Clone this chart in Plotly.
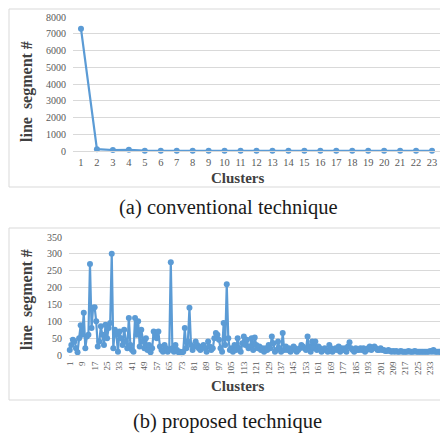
import plotly.graph_objects as go

# ---------------- data ----------------
top_clusters = list(range(1, 24))
top_values = [7300, 110, 60, 70, 20, 18, 15, 12, 12, 10, 10, 10, 10, 8, 8, 8, 8, 8, 8, 8, 8, 8, 8]

bottom_values = [
    15, 30, 45, 40, 20, 8, 50, 88,
    60, 125, 20, 55, 60, 270, 80, 140,
    142, 100, 25, 40, 85, 60, 30, 90,
    50, 80, 95, 300, 20, 75, 60, 10,
    70, 50, 30, 75, 40, 20, 110, 30,
    15, 10, 110, 60, 100, 25, 75, 40,
    20, 50, 15, 30, 8, 20, 70, 60,
    50, 70, 25, 15, 10, 30, 20, 10,
    15, 275, 20, 10, 30, 15, 8, 10,
    5, 10, 80, 20, 40, 140, 30, 15,
    25, 40, 30, 20, 15, 25, 30, 20,
    10, 40, 25, 15, 20, 50, 65, 60,
    45, 20, 10, 95, 30, 210, 50, 15,
    20, 10, 30, 15, 50, 20, 10, 35,
    55, 30, 45, 20, 25, 50, 15, 52,
    30, 20, 25, 15, 20, 10, 20, 15,
    30, 20, 55, 35, 10, 15, 40, 20,
    10, 65, 15, 25, 15, 20, 10, 15,
    25, 20, 10, 15, 20, 30, 25, 20,
    15, 55, 25, 10, 40, 20, 40, 15,
    25, 20, 10, 15, 20, 15, 10, 30,
    20, 10, 15, 20, 15, 25, 10, 20,
    15, 20, 10, 25, 38, 20, 15, 10,
    20, 15, 15, 20, 15, 20, 10, 15,
    20, 25, 15, 20, 25, 20, 15, 15,
    20, 15, 15, 12, 12, 15, 12, 10,
    12, 10, 12, 10, 10, 12, 10, 10,
    10, 10, 12, 10, 10, 10, 12, 10,
    10, 10, 10, 10, 10, 10, 10, 10,
    12, 10, 15, 10, 10, 10, 10, 8,
]
bottom_clusters = list(range(1, len(bottom_values) + 1))
bottom_tickvals = list(range(1, len(bottom_values) + 1, 8))

top_yticks = list(range(0, 8001, 1000))
bottom_yticks = list(range(0, 351, 50))

y_title = "line  segment #"
x_title = "Clusters"
caption_a = "(a) conventional technique"
caption_b = "(b) proposed technique"

# ---------------- layout helpers ----------------
# page body has an 8px margin, so the figure is drawn 8px in from the top-left
OFF = 8
W, H = 448 - OFF, 440 - OFF
def px(x):
    return max(0.0, (x - OFF) / W)
def py(y):
    return min(1.0, 1 - (y - OFF) / H)

SERIF = "Liberation Serif, Times New Roman, serif"
BLUE = "#5B9BD5"
GRID = "#D9D9D9"
TICK = "#595959"

fig = go.Figure()
fig.add_trace(go.Scatter(
    x=top_clusters, y=top_values, mode="lines+markers",
    line=dict(color=BLUE, width=2.2), marker=dict(color=BLUE, size=6),
    xaxis="x", yaxis="y", showlegend=False, cliponaxis=False))
fig.add_trace(go.Scatter(
    x=bottom_clusters, y=bottom_values, mode="lines+markers",
    line=dict(color=BLUE, width=2.2), marker=dict(color=BLUE, size=6),
    xaxis="x2", yaxis="y2", showlegend=False, cliponaxis=False))

fig.update_layout(
    template="none",
    width=W, height=H, margin=dict(l=0, r=0, t=0, b=0),
    paper_bgcolor="white", plot_bgcolor="white",
    font=dict(family=SERIF, color=TICK),
    xaxis=dict(domain=[px(73), px(440)], range=[0.5, 23.5], anchor="y", automargin=False,
               tickvals=top_clusters, showgrid=False, zeroline=False,
               showline=True, linecolor=GRID, linewidth=1,
               tickfont=dict(size=10.5, color=TICK), ticks="", ticklabelstandoff=1),
    yaxis=dict(domain=[py(151), py(17)], range=[0, 8000], anchor="x", automargin=False,
               tickvals=top_yticks, showgrid=True, gridcolor=GRID, gridwidth=1,
               zeroline=False, tickfont=dict(size=10, color=TICK), ticks="",
               ticklabelstandoff=6),
    xaxis2=dict(domain=[px(69), px(442)], range=[0.5, len(bottom_values) + 0.5], anchor="y2",
                automargin=False,
                tickvals=bottom_tickvals, tickangle=-90, showgrid=False, zeroline=False,
                showline=True, linecolor=GRID, linewidth=1,
                tickfont=dict(size=9, color=TICK), ticks="", ticklabelstandoff=2),
    yaxis2=dict(domain=[py(355), py(237)], range=[0, 350], anchor="x2", automargin=False,
                tickvals=bottom_yticks, showgrid=True, gridcolor=GRID, gridwidth=1,
                zeroline=False, tickfont=dict(size=10, color=TICK), ticks="",
                ticklabelstandoff=6),
)

# chart-area borders
for (x0, y0, x1, y1) in [(9, 9, 443, 187), (9, 228, 443, 400)]:
    fig.add_shape(type="rect", xref="paper", yref="paper",
                  x0=px(x0), x1=px(x1), y0=py(y1), y1=py(y0),
                  line=dict(color="#D9D9D9", width=1), fillcolor="rgba(0,0,0,0)", layer="below")

ann = [
    dict(text=x_title, x=px(237), y=py(178), size=15, bold=True, color="#404040", angle=0),
    dict(text=x_title, x=px(237), y=py(386), size=15, bold=True, color="#404040", angle=0),
    dict(text=y_title, x=px(27), y=py(92), size=16, bold=True, color="#404040", angle=-90),
    dict(text=y_title, x=px(27), y=py(300), size=16, bold=True, color="#404040", angle=-90),
    dict(text=caption_a, x=px(228), y=py(207), size=20.5, bold=False, color="#1a1a1a", angle=0),
    dict(text=caption_b, x=px(227), y=py(421), size=20.5, bold=False, color="#1a1a1a", angle=0),
]
for a in ann:
    t = f"<b>{a['text']}</b>" if a["bold"] else a["text"]
    fig.add_annotation(text=t, x=a["x"], y=a["y"], xref="paper", yref="paper",
                       xanchor="center", yanchor="middle", showarrow=False,
                       textangle=a["angle"], font=dict(family=SERIF, size=a["size"], color=a["color"]))

fig.write_html("out.html")
